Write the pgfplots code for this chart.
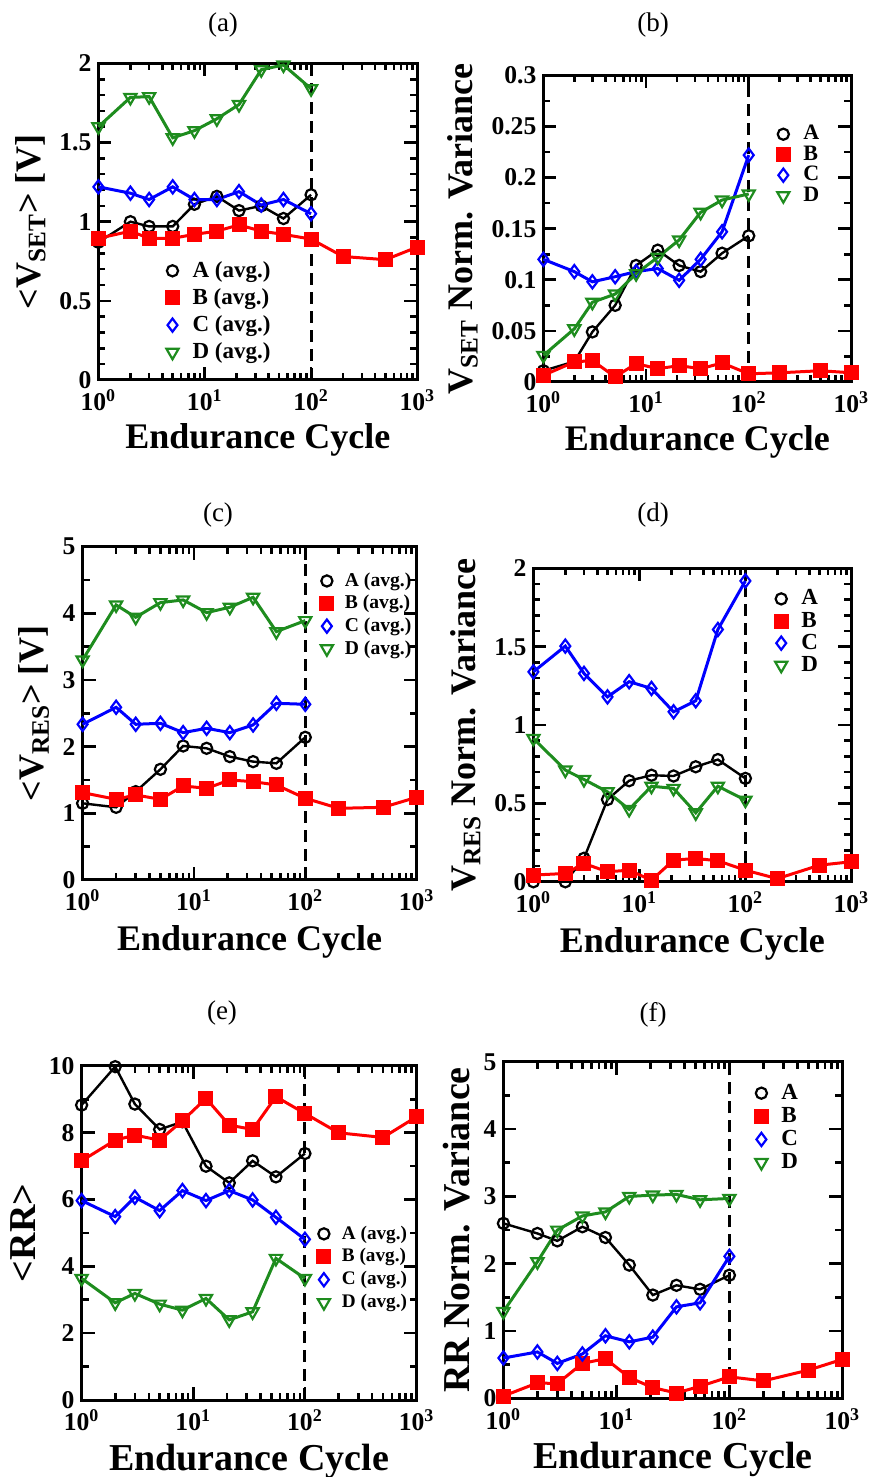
\documentclass[border=0pt]{standalone}
\usepackage{fontspec}
\setmainfont{Liberation Serif}
\usepackage{pgfplots}
\pgfplotsset{compat=1.18}
\definecolor{dgreen}{RGB}{30,140,30}

\pgfplotsset{
  panel/.style={
    scale only axis, xmin=1, xmax=1000,
    xtick={1,10,100,1000},
    xticklabels={10\textsuperscript{0},10\textsuperscript{1},10\textsuperscript{2},10\textsuperscript{3}},
    minor xtick={2,3,4,5,6,7,8,9,20,30,40,50,60,70,80,90,200,300,400,500,600,700,800,900},
    tick align=inside, xtick pos=both, ytick pos=both,
    major tick length=6.5pt, minor tick length=3.5pt,
    xtick style={draw=black, line width=1.3pt},
    ytick style={draw=black, line width=1.3pt},
    axis line style={line width=1.5pt},
    tick label style={font=\bfseries\fontsize{12.8}{13}\selectfont},
    xticklabel shift=1.5pt,
    label style={font=\bfseries\fontsize{18}{20}\selectfont},
    xlabel={Endurance Cycle},
    xlabel style={yshift=0.5pt},
    clip=false,
    legend cell align=left,
    legend style={draw=none, fill=none, anchor=north west, inner sep=0pt,
      row sep=2.5pt, column sep=7pt, nodes={inner sep=0pt},
      font=\bfseries\fontsize{11.5}{12}\selectfont},
    legend image code/.code={\draw[##1, only marks] plot coordinates {(0pt,0pt)};},
  },
  bigrow/.style={label style={font=\bfseries\fontsize{19}{21}\selectfont},
    xlabel style={yshift=0pt}},
  sA/.style={black, line width=1.2pt, mark=o, mark size=2.8pt, mark options={line width=1.1pt}},
  sB/.style={red, line width=1.5pt, mark=square*, mark size=3pt},
  sC/.style={blue, line width=1.5pt, mark=diamond, mark size=3.3pt, mark options={line width=1.1pt}},
  sD/.style={dgreen, line width=1.5pt, mark=triangle, mark size=3.5pt, mark options={rotate=180, line width=1.1pt}},
  vdash/.style={black, line width=1.5pt, dash pattern=on 6pt off 3.5pt, forget plot},
}

\begin{document}
\begin{tikzpicture}
\useasboundingbox (0,0) rectangle (435pt,738.5pt);

\node[font=\fontsize{13.5}{14}\selectfont] at (111.5pt,726pt) {(a)};
\node[font=\fontsize{13.5}{14}\selectfont] at (326.5pt,726pt) {(b)};
\node[font=\fontsize{13.5}{14}\selectfont] at (109pt,481pt) {(c)};
\node[font=\fontsize{13.5}{14}\selectfont] at (326.5pt,481pt) {(d)};
\node[font=\fontsize{13.5}{14}\selectfont] at (111pt,232pt) {(e)};
\node[font=\fontsize{13.5}{14}\selectfont] at (326.5pt,231pt) {(f)};

% (a)
\begin{semilogxaxis}[panel, at={(49.2pt,548.5pt)}, anchor=south west,
  width=159.5pt, height=158.3pt,
  ymin=0, ymax=2, ytick={0,0.5,1,1.5,2}, yticklabels={0,0.5,1,1.5,2},
  minor y tick num=4,
  ylabel={<V\textsubscript{SET}> [V]},
  legend style={at={(0.212,0.376)}, row sep=4.1pt}]
\addplot[vdash] coordinates {(100,0) (100,2)};
\addplot[sA] coordinates {(1,0.87) (2,1.00) (3,0.97) (5,0.97) (8,1.11) (13,1.16) (21,1.07) (34,1.10) (55,1.02) (100,1.17)};
\addplot[sB] coordinates {(1,0.895) (2,0.94) (3,0.895) (5,0.895) (8,0.92) (13,0.94) (21,0.98) (34,0.94) (55,0.92) (100,0.89) (200,0.78) (500,0.76) (1000,0.84)};
\addplot[sC] coordinates {(1,1.22) (2,1.18) (3,1.14) (5,1.22) (8,1.14) (13,1.14) (21,1.19) (34,1.105) (55,1.14) (100,1.05)};
\addplot[sD] coordinates {(1,1.60) (2,1.785) (3,1.79) (5,1.53) (8,1.575) (13,1.65) (21,1.74) (34,1.96) (55,1.99) (100,1.84)};
\legend{A (avg.), B (avg.), C (avg.), D (avg.)}
\end{semilogxaxis}

% (b)
\begin{semilogxaxis}[panel, at={(271.7pt,547.5pt)}, anchor=south west,
  width=154pt, height=153.3pt,
  ymin=0, ymax=0.3, ytick={0,0.05,0.1,0.15,0.2,0.25,0.3},
  yticklabels={0,0.05,0.1,0.15,0.2,0.25,0.3},
  minor y tick num=1,
  ylabel={V\textsubscript{SET} Norm. Variance},
  legend style={at={(0.758,0.838)}, row sep=1.5pt, font=\bfseries\fontsize{11}{12}\selectfont}]
\addplot[vdash] coordinates {(100,0) (100,0.3)};
\addplot[sA] coordinates {(1,0.011) (2,0.020) (3,0.049) (5,0.075) (8,0.114) (13,0.129) (21,0.114) (34,0.108) (55,0.126) (100,0.143)};
\addplot[sB] coordinates {(1,0.0065) (2,0.0196) (3,0.021) (5,0.005) (8,0.018) (13,0.013) (21,0.016) (34,0.013) (55,0.0186) (100,0.008) (200,0.009) (500,0.011) (1000,0.009)};
\addplot[sC] coordinates {(1,0.120) (2,0.108) (3,0.098) (5,0.103) (8,0.108) (13,0.111) (21,0.0995) (34,0.120) (55,0.147) (100,0.222)};
\addplot[sD] coordinates {(1,0.026) (2,0.052) (3,0.078) (5,0.086) (8,0.106) (13,0.122) (21,0.139) (34,0.166) (55,0.178) (100,0.184)};
\legend{A, B, C, D}
\end{semilogxaxis}

% (c)
\begin{semilogxaxis}[panel, at={(41.3pt,298.5pt)}, anchor=south west,
  width=167pt, height=166.7pt,
  ymin=0, ymax=5, ytick={0,1,2,3,4,5}, yticklabels={0,1,2,3,4,5},
  minor y tick num=1,
  ylabel={<V\textsubscript{RES}> [V]},
  xlabel style={yshift=-1pt},
  legend style={at={(0.712,0.923)}, row sep=3pt, column sep=6pt, font=\bfseries\fontsize{9.8}{11}\selectfont}]
\addplot[vdash] coordinates {(100,0) (100,5)};
\addplot[sA] coordinates {(1,1.15) (2,1.09) (3,1.325) (5,1.66) (8,2.01) (13,1.975) (21,1.85) (34,1.775) (55,1.75) (100,2.14)};
\addplot[sB] coordinates {(1,1.31) (2,1.21) (3,1.275) (5,1.21) (8,1.41) (13,1.375) (21,1.50) (34,1.475) (55,1.425) (100,1.225) (200,1.075) (500,1.09) (1000,1.24)};
\addplot[sC] coordinates {(1,2.335) (2,2.59) (3,2.335) (5,2.35) (8,2.21) (13,2.275) (21,2.21) (34,2.325) (55,2.65) (100,2.635)};
\addplot[sD] coordinates {(1,3.30) (2,4.125) (3,3.94) (5,4.16) (8,4.20) (13,4.01) (21,4.09) (34,4.24) (55,3.725) (100,3.89)};
\legend{A (avg.), B (avg.), C (avg.), D (avg.)}
\end{semilogxaxis}

% (d)
\begin{semilogxaxis}[panel, at={(266.7pt,297.6pt)}, anchor=south west,
  width=159pt, height=156.7pt,
  ymin=0, ymax=2, ytick={0,0.5,1,1.5,2}, yticklabels={0,0.5,1,1.5,2},
  minor y tick num=4,
  ylabel={V\textsubscript{RES} Norm. Variance},
  xlabel style={yshift=-1pt},
  legend style={at={(0.759,0.933)}, row sep=2pt}]
\addplot[vdash] coordinates {(100,0) (100,2)};
\addplot[sA] coordinates {(1,0.0) (2,0.0) (3,0.15) (5,0.525) (8,0.645) (13,0.68) (21,0.675) (34,0.734) (55,0.78) (100,0.66)};
\addplot[sB] coordinates {(1,0.043) (2,0.053) (3,0.117) (5,0.064) (8,0.074) (13,0.01) (21,0.138) (34,0.149) (55,0.134) (100,0.074) (200,0.02) (500,0.106) (1000,0.128)};
\addplot[sC] coordinates {(1,1.34) (2,1.504) (3,1.33) (5,1.18) (8,1.277) (13,1.234) (21,1.085) (34,1.155) (55,1.61) (100,1.92)};
\addplot[sD] coordinates {(1,0.915) (2,0.713) (3,0.653) (5,0.574) (8,0.462) (13,0.61) (21,0.596) (34,0.44) (55,0.61) (100,0.521)};
\legend{A, B, C, D}
\end{semilogxaxis}

% (e)
\begin{semilogxaxis}[panel, bigrow, at={(40.8pt,38.5pt)}, anchor=south west,
  width=167.5pt, height=167pt,
  ymin=0, ymax=10, ytick={0,2,4,6,8,10}, yticklabels={0,2,4,6,8,10},
  minor y tick num=1,
  ylabel={<RR>},
  legend style={at={(0.704,0.523)}, row sep=3.3pt, column sep=6pt, font=\bfseries\fontsize{9.6}{11}\selectfont}]
\addplot[vdash] coordinates {(100,0) (100,10)};
\addplot[sA] coordinates {(1,8.83) (2,9.98) (3,8.86) (5,8.10) (8,8.33) (13,7.00) (21,6.50) (34,7.16) (55,6.68) (100,7.38)};
\addplot[sB] coordinates {(1,7.16) (2,7.78) (3,7.93) (5,7.78) (8,8.36) (13,9.03) (21,8.23) (34,8.10) (55,9.08) (100,8.58) (200,8.00) (500,7.86) (1000,8.48)};
\addplot[sC] coordinates {(1,5.97) (2,5.49) (3,6.07) (5,5.67) (8,6.27) (13,5.97) (21,6.27) (34,5.99) (55,5.47) (100,4.81)};
\addplot[sD] coordinates {(1,3.64) (2,2.91) (3,3.19) (5,2.87) (8,2.69) (13,3.04) (21,2.40) (34,2.64) (55,4.24) (100,3.64)};
\legend{A (avg.), B (avg.), C (avg.), D (avg.)}
\end{semilogxaxis}

% (f)
\begin{semilogxaxis}[panel, bigrow, at={(251.7pt,39.3pt)}, anchor=south west,
  width=169.5pt, height=168.3pt,
  ymin=0, ymax=5, ytick={0,1,2,3,4,5}, yticklabels={0,1,2,3,4,5},
  minor y tick num=1,
  ylabel={RR Norm. Variance},
  legend style={at={(0.742,0.935)}, row sep=2.5pt}]
\addplot[vdash] coordinates {(100,0) (100,5)};
\addplot[sA] coordinates {(1,2.60) (2,2.45) (3,2.34) (5,2.55) (8,2.39) (13,1.98) (21,1.535) (34,1.68) (55,1.62) (100,1.83)};
\addplot[sB] coordinates {(1,0.035) (2,0.23) (3,0.22) (5,0.52) (8,0.59) (13,0.31) (21,0.16) (34,0.08) (55,0.18) (100,0.32) (200,0.26) (500,0.42) (1000,0.58)};
\addplot[sC] coordinates {(1,0.60) (2,0.69) (3,0.52) (5,0.66) (8,0.93) (13,0.84) (21,0.91) (34,1.36) (55,1.42) (100,2.11)};
\addplot[sD] coordinates {(1,1.29) (2,2.03) (3,2.50) (5,2.71) (8,2.77) (13,3.00) (21,3.02) (34,3.03) (55,2.95) (100,2.97)};
\legend{A, B, C, D}
\end{semilogxaxis}
\end{tikzpicture}
\end{document}
